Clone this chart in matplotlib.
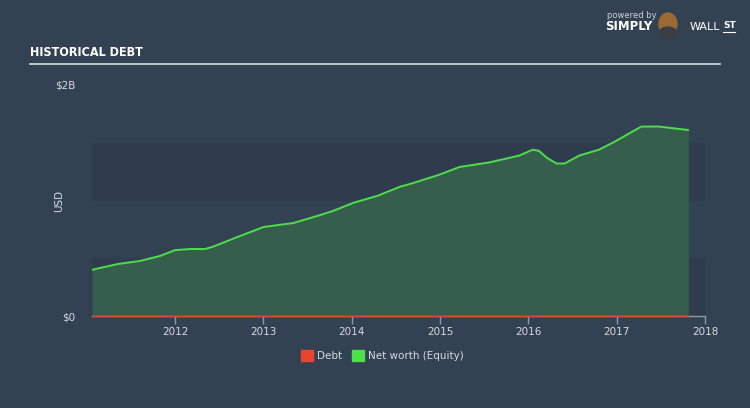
import matplotlib
matplotlib.use("Agg")
import matplotlib.pyplot as plt
from matplotlib.patches import Rectangle, Ellipse

years = [2011.06, 2011.35, 2011.60, 2011.83, 2012.00, 2012.17, 2012.34, 2012.43, 2012.66,
         2013.00, 2013.19, 2013.34, 2013.61, 2013.79, 2014.02, 2014.29, 2014.55, 2014.69,
         2014.98, 2015.22, 2015.56, 2015.79, 2015.90, 2016.05, 2016.12, 2016.21, 2016.32,
         2016.41, 2016.58, 2016.80, 2016.98, 2017.14, 2017.28, 2017.48, 2017.81]
equity = [0.40, 0.45, 0.476, 0.52, 0.57, 0.58, 0.58, 0.60, 0.67,
          0.77, 0.79, 0.805, 0.866, 0.91, 0.98, 1.04, 1.12, 1.15,
          1.22, 1.29, 1.33, 1.37, 1.39, 1.44, 1.43, 1.37, 1.32,
          1.32, 1.39, 1.44, 1.51, 1.58, 1.64, 1.64, 1.61]
debt = [0.0] * len(years)
xticks = [2012, 2013, 2014, 2015, 2016, 2017, 2018]

BG = "#334253"
BAND = "#2e3c4e"
FILL = "#355f4c"
LINE = "#4ddf4a"
RED = "#e8452e"
TXT = "#d5dbe1"

fig = plt.figure(figsize=(7.5, 4.08), dpi=100)
fig.patch.set_facecolor(BG)
ax = fig.add_axes([92/750, 1-316/408, (705-92)/750, (316-85)/408])
ax.set_facecolor(BG)
ax.set_xlim(years[0], 2018)
ax.set_ylim(0, 2)

for lo, hi in [(0, 0.5), (1.0, 1.5)]:
    ax.axhspan(lo, hi, color=BAND, zorder=0, lw=0)

ax.fill_between(years, equity, 0, color=FILL, lw=0, zorder=1)
ax.plot(years, equity, color=LINE, lw=1.4, zorder=3, solid_capstyle='round')
ax.plot(years, debt, color=RED, lw=1.0, zorder=5, clip_on=False)

for s in ["top", "right", "left"]:
    ax.spines[s].set_visible(False)
ax.spines["bottom"].set_color("#8d9aa8")
ax.spines["bottom"].set_linewidth(1)
ax.spines["bottom"].set_zorder(4)
ax.set_xticks(xticks)
ax.set_xticklabels([str(y) for y in xticks])
ax.tick_params(axis='x', colors="#8d9aa8", length=6, width=1, labelcolor=TXT, labelsize=7.5, pad=2)
ax.set_yticks([0, 2])
ax.set_yticklabels(["$0", "$2B"])
ax.tick_params(axis='y', length=0, labelcolor=TXT, labelsize=7.5, pad=12)
ax.set_ylabel("USD", color=TXT, fontsize=7.5)
ax.yaxis.set_label_coords(-0.045, 0.5)

# title and separator
fig.text(30/750, 1-52/408, "HISTORICAL DEBT", color="white", fontsize=9, fontweight="bold",
         family="DejaVu Sans", fontstretch="condensed", va="center", ha="left")
fig.add_artist(plt.Line2D([30/750, 720/750], [1-64/408, 1-64/408], color="#c8d0d8", lw=1.3))

# logo
fig.text(607/750, 1-15/408, "powered by", color="#c8d0d8", fontsize=6, va="center", ha="left")
fig.text(605/750, 1-27/408, "SIMPLY", color="white", fontsize=8.5, fontweight="bold", va="center", ha="left")
fig.text(690/750, 1-27/408, "WALL", color="white", fontsize=8, va="center", ha="left")
fig.text(723/750, 1-26/408, "ST", color="white", fontsize=6.5, fontweight="bold", va="center", ha="left")
fig.add_artist(plt.Line2D([723/750, 735/750], [1-32/408, 1-32/408], color="white", lw=0.8))
fig.add_artist(Ellipse((668/750, 1-24/408), 18/750, 22/408, color="#9a6a32", transform=fig.transFigure))
fig.add_artist(Ellipse((668/750, 1-33/408), 18/750, 12/408, color="#3a3f45", transform=fig.transFigure))

# legend
fig.add_artist(Rectangle((301/750, 1-361/408), 12/750, 11/408, color=RED, transform=fig.transFigure))
fig.text(317/750, 1-356/408, "Debt", color=TXT, fontsize=7.5, va="center", ha="left")
fig.add_artist(Rectangle((352/750, 1-361/408), 12/750, 11/408, color=LINE, transform=fig.transFigure))
fig.text(368/750, 1-356/408, "Net worth (Equity)", color=TXT, fontsize=7.5, va="center", ha="left")

fig.savefig("out.png", dpi=100, facecolor=BG)
